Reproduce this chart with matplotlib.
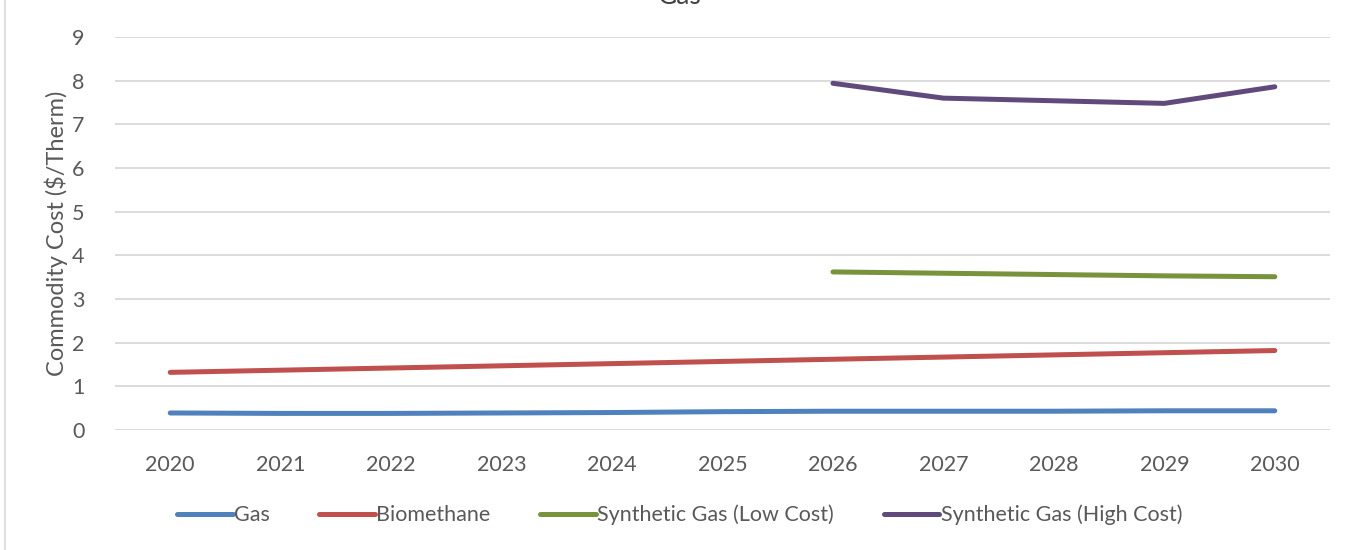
import matplotlib
matplotlib.use("Agg")
import matplotlib.pyplot as plt
from matplotlib.patches import Rectangle

years = [2020, 2021, 2022, 2023, 2024, 2025, 2026, 2027, 2028, 2029, 2030]
gas = [0.39, 0.38, 0.38, 0.39, 0.40, 0.42, 0.43, 0.43, 0.43, 0.44, 0.44]
biomethane = [1.32, 1.37, 1.42, 1.47, 1.52, 1.57, 1.62, 1.67, 1.72, 1.77, 1.82]
syn_years = [2026, 2027, 2028, 2029, 2030]
syn_low = [3.62, 3.59, 3.56, 3.53, 3.51]
syn_high = [7.94, 7.60, 7.54, 7.48, 7.86]
yticks = list(range(0, 10))

plt.rcParams['font.family'] = ['Lato', 'DejaVu Sans']

W, H = 1359, 550
fig = plt.figure(figsize=(W / 100, H / 100), dpi=100)
ax = fig.add_axes([115 / W, 1 - 430 / H, (1330 - 115) / W, (430 - 37) / H])

c_gas = '#4F81BD'
c_bio = '#C0504D'
c_low = '#77933C'
c_high = '#604A7B'
lw = 3.6

ax.plot(years, gas, color=c_gas, lw=lw, solid_capstyle='round', label='Gas')
ax.plot(years, biomethane, color=c_bio, lw=lw, solid_capstyle='round', label='Biomethane')
ax.plot(syn_years, syn_low, color=c_low, lw=lw, solid_capstyle='round', label='Synthetic Gas (Low Cost)')
ax.plot(syn_years, syn_high, color=c_high, lw=lw, solid_capstyle='round', label='Synthetic Gas (High Cost)')

ax.set_ylim(0, 9)
ax.set_xlim(2019.5, 2030.5)
ax.set_yticks(yticks)
ax.set_xticks(years)
ax.grid(axis='y', color='#D9D9D9', lw=1.3)
ax.set_axisbelow(True)
for s in ax.spines.values():
    s.set_visible(False)
ax.tick_params(axis='both', length=0, labelsize=15.5, colors='#595959')
ax.tick_params(axis='y', pad=22)
ax.tick_params(axis='x', pad=18)
ax.set_ylabel('Commodity Cost ($/Therm)', fontsize=17, color='#595959', labelpad=3)

leg = fig.legend(loc='center', bbox_to_anchor=(0.5, 1 - 515 / H), ncol=4, frameon=False,
                 fontsize=15.5, handlelength=2.6, handletextpad=0.05, columnspacing=2.3)
for t in leg.get_texts():
    t.set_color('#595959')

fig.text(0.5, 1 - (-4) / H, 'Gas', ha='center', va='center', fontsize=19, color='#404040')

fig.patches.append(Rectangle((5 / W, -0.01), 1.2, 1.1, transform=fig.transFigure,
                             fill=False, edgecolor='#D9D9D9', lw=1.2))

fig.savefig('out.png', dpi=100)
